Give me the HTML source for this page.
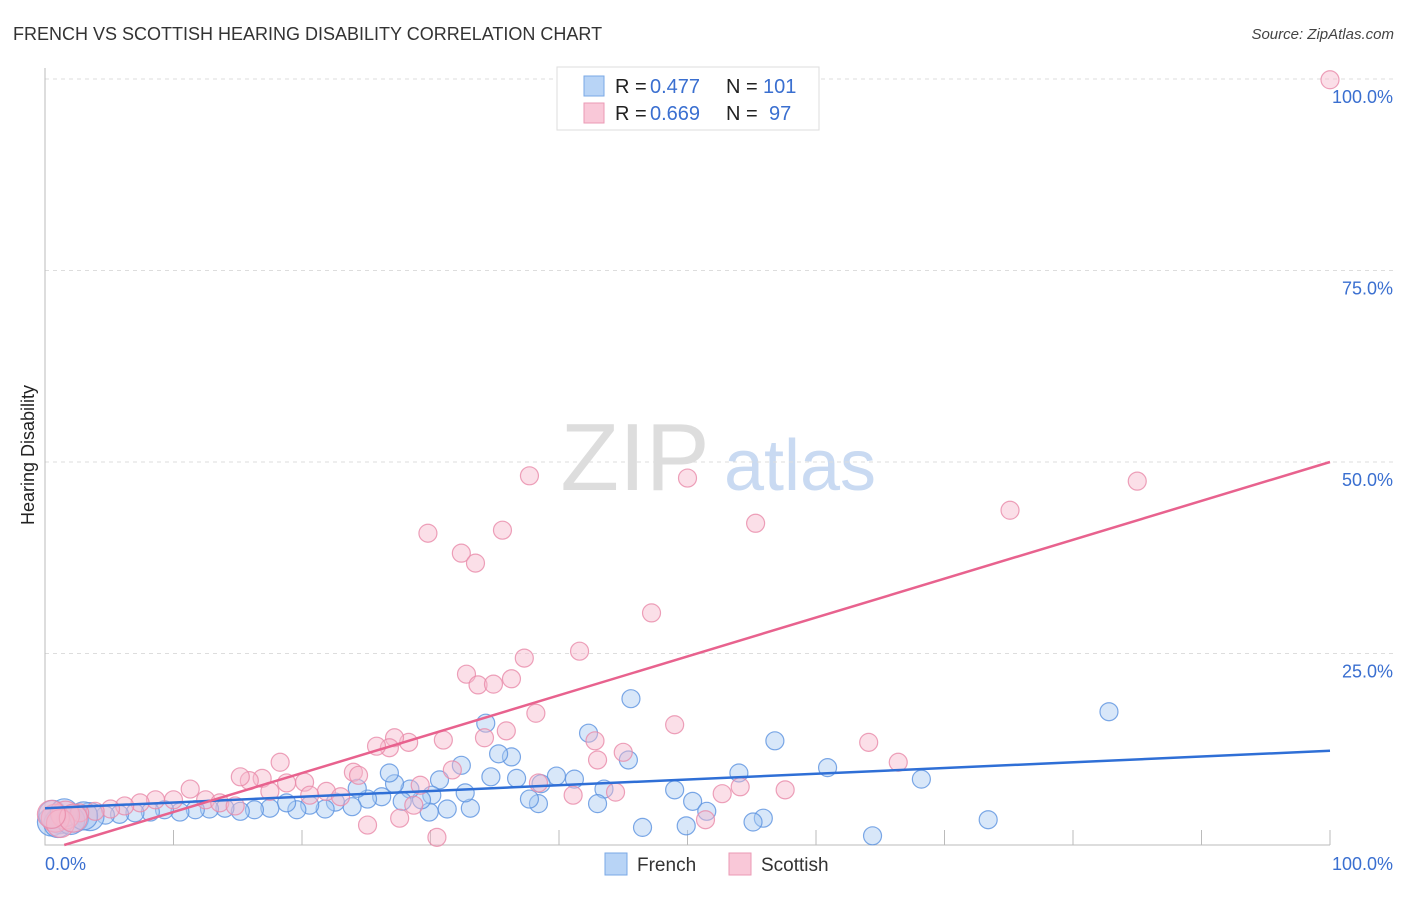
<!DOCTYPE html>
<html><head><meta charset="utf-8"><style>
body{margin:0;background:#fff;font-family:"Liberation Sans",sans-serif;}
svg text{font-family:"Liberation Sans",sans-serif;}
</style></head><body>
<svg id="chart" width="1406" height="892" xmlns="http://www.w3.org/2000/svg">
<text x="13" y="40" font-size="18" fill="#333">FRENCH VS SCOTTISH HEARING DISABILITY CORRELATION CHART</text>
<text x="1394" y="39" font-size="15" fill="#444" text-anchor="end" font-style="italic">Source: ZipAtlas.com</text>
<text x="0" y="0" transform="translate(34,455) rotate(-90)" font-size="18" fill="#222" text-anchor="middle">Hearing Disability</text>
<g><text x="635" y="490" font-size="96" fill="#ddd" text-anchor="middle" font-family="Liberation Serif,serif">ZIP</text><text x="800" y="490" font-size="72" fill="#c9daf2" text-anchor="middle">atlas</text></g>
<g id="grid"></g><g id="axes"></g><g id="pts"></g><g id="lines"></g>
<g>
<rect x="557" y="67" width="262" height="63" fill="#fff" stroke="#ddd"/>
<rect x="584" y="76" width="20" height="20" fill="#b8d4f6" stroke="#7aa8e6"/>
<rect x="584" y="103" width="20" height="20" fill="#f9c8d8" stroke="#eb9ab5"/>
<text x="615" y="93" font-size="20" fill="#222">R =</text><text x="650" y="93" font-size="20" fill="#3a6fd0">0.477</text>
<text x="726" y="93" font-size="20" fill="#222">N =</text><text x="763" y="93" font-size="20" fill="#3a6fd0">101</text>
<text x="615" y="120" font-size="20" fill="#222">R =</text><text x="650" y="120" font-size="20" fill="#3a6fd0">0.669</text>
<text x="726" y="120" font-size="20" fill="#222">N =</text><text x="769" y="120" font-size="20" fill="#3a6fd0">97</text>
</g>
<g>
<rect x="605" y="853" width="22" height="22" fill="#b8d4f6" stroke="#7aa8e6"/>
<text x="637" y="871" font-size="19" fill="#333">French</text>
<rect x="729" y="853" width="22" height="22" fill="#f9c8d8" stroke="#eb9ab5"/>
<text x="761" y="871" font-size="19" fill="#333">Scottish</text>
</g>
</svg>
<script>
const yTicks=[25,50,75,100];
const yTickLabels=["25.0%","50.0%","75.0%","100.0%"];
const frenchX=[82.8,45.6,56.8,34.3,42.3,60.9,68.2,54.0,49.0,50.4,51.5,55.9,55.1,49.9,46.5,64.4,73.4,45.4,43.5,43.0,41.2,39.8,38.6,38.4,37.7,36.7,36.3,35.3,34.7,32.4,33.1,32.7,30.7,31.3,30.1,29.9,29.3,28.4,27.8,27.2,26.8,26.2,25.1,24.3,23.9,22.6,21.8,20.6,19.6,18.8,17.5,16.3,15.2,14.0,12.8,11.7,10.5,9.3,8.2,7.0,5.8,4.7,3.5,2.3,1.2,0.5,1.0,2.0,0.6,1.5,3.0];
const frenchY=[17.4,19.1,13.6,15.9,14.6,10.1,8.6,9.4,7.2,5.7,4.4,3.5,3.0,2.5,2.3,1.2,3.3,11.1,7.3,5.4,8.6,9.0,8.0,5.4,6.0,8.7,11.5,11.9,8.9,10.4,4.8,6.8,8.5,4.7,6.5,4.3,5.9,7.3,5.7,8.0,9.4,6.3,6.0,7.4,5.0,5.6,4.7,5.2,4.6,5.5,4.8,4.6,4.4,4.8,4.7,4.6,4.3,4.6,4.3,4.2,4.0,3.9,3.7,3.5,3.3,3.0,2.8,3.2,4.0,4.2,3.8];
const frenchBig=[0,0,0,0,0,0,0,0,0,0,0,0,0,0,0,0,0,0,0,0,0,0,0,0,0,0,0,0,0,0,0,0,0,0,0,0,0,0,0,0,0,0,0,0,0,0,0,0,0,0,0,0,0,0,0,0,0,0,0,0,0,0,1,1,1,1,1,1,1,1,1];
const scotX=[100,85,75.1,55.3,50.0,37.7,29.8,35.6,32.4,33.5,47.2,41.6,37.3,32.8,33.7,34.9,36.3,38.2,49.0,64.1,66.4,42.8,45.0,43.0,35.9,34.2,31.0,28.3,27.2,26.8,25.8,24.0,24.4,31.7,29.2,18.3,16.9,15.9,15.2,18.8,20.2,21.9,17.5,11.3,10.0,54.1,52.7,57.6,51.4,44.4,41.1,38.4,25.1,27.6,30.5,28.7,8.6,7.4,6.2,5.1,3.9,2.7,1.6,0.8,12.5,13.6,14.8,20.6,23.0,1.2,2.2,0.5];
const scotY=[99.9,47.5,43.7,42.0,47.9,48.2,40.7,41.1,38.1,36.8,30.3,25.3,24.4,22.3,20.9,21.0,21.7,17.2,15.7,13.4,10.8,13.6,12.1,11.1,14.9,14.0,13.7,13.4,14.0,12.7,12.9,9.5,9.1,9.8,7.8,10.8,8.7,8.4,8.9,8.1,8.2,7.0,7.0,7.3,5.9,7.6,6.7,7.2,3.3,6.9,6.5,8.1,2.6,3.5,1.0,5.2,5.9,5.5,5.1,4.7,4.4,4.2,3.9,3.5,5.9,5.5,5.1,6.5,6.3,2.8,3.5,4.0];
const scotBig=[0,0,0,0,0,0,0,0,0,0,0,0,0,0,0,0,0,0,0,0,0,0,0,0,0,0,0,0,0,0,0,0,0,0,0,0,0,0,0,0,0,0,0,0,0,0,0,0,0,0,0,0,0,0,0,0,0,0,0,0,0,0,1,1,0,0,0,0,0,1,1,1];
const frenchTrend=[4.8,12.3];
const scotTrend=[-0.76,50.0];
const X0=45,X1=1330,Y0=845,Y1=79;
const sx=v=>X0+(X1-X0)*v/100, sy=v=>Y0-(Y0-Y1)*v/100;
const NS="http://www.w3.org/2000/svg";
function mk(t,a,p){const e=document.createElementNS(NS,t);for(const k in a)e.setAttribute(k,a[k]);p.appendChild(e);return e;}
const grid=document.getElementById('grid'),axes=document.getElementById('axes'),pts=document.getElementById('pts'),lines=document.getElementById('lines');
yTicks.forEach((t,i)=>{
 const l=mk('line',{x1:X0,x2:1394,y1:sy(t),y2:sy(t),stroke:'#ddd','stroke-dasharray':'4,4'},grid);
 
 
 const tx=mk('text',{x:1393,y:sy(t)+24,'font-size':18,fill:'#3a6fd0','text-anchor':'end'},axes);
 tx.textContent=yTickLabels[i];
 
 
});
const ax=mk('path',{d:`M${X0},68V${Y0}H${X1}`,stroke:'#bbb',fill:'none'},axes);


for(let i=1;i<=10;i++){const t=mk('line',{x1:sx(i*10),x2:sx(i*10),y1:Y0-15,y2:Y0,stroke:'#bbb'},axes);
 
 }
const xl0=mk('text',{x:45,y:870,'font-size':18,fill:'#3a6fd0'},axes);xl0.textContent='0.0%';


const xl1=mk('text',{x:1393,y:870,'font-size':18,fill:'#3a6fd0','text-anchor':'end'},axes);xl1.textContent='100.0%';


function dots(X,Y,B,fill,stroke,name){X.forEach((x,i)=>{
 const c=mk('circle',{cx:sx(x),cy:sy(Y[i]),r:B[i]?14:9,fill:fill,'fill-opacity':B[i]?0.55:0.45,stroke:stroke,'stroke-width':1.2,'stroke-opacity':0.8},pts);
 
 });}
dots(frenchX,frenchY,frenchBig,'#a9c9f2','#5b92e0','french-point');
dots(scotX,scotY,scotBig,'#f6b8cc','#e88aa9','scottish-point');
const bl=mk('line',{x1:sx(0),y1:sy(frenchTrend[0]),x2:sx(100),y2:sy(frenchTrend[1]),stroke:'#2f6fd6','stroke-width':2.5},lines);


const slope=(scotTrend[1]-scotTrend[0])/100, xz=Math.max(0,-scotTrend[0]/slope);
const pl=mk('line',{x1:sx(xz),y1:sy(scotTrend[0]+slope*xz),x2:sx(100),y2:sy(scotTrend[1]),stroke:'#e8628e','stroke-width':2.5},lines);


</script>
</body></html>
